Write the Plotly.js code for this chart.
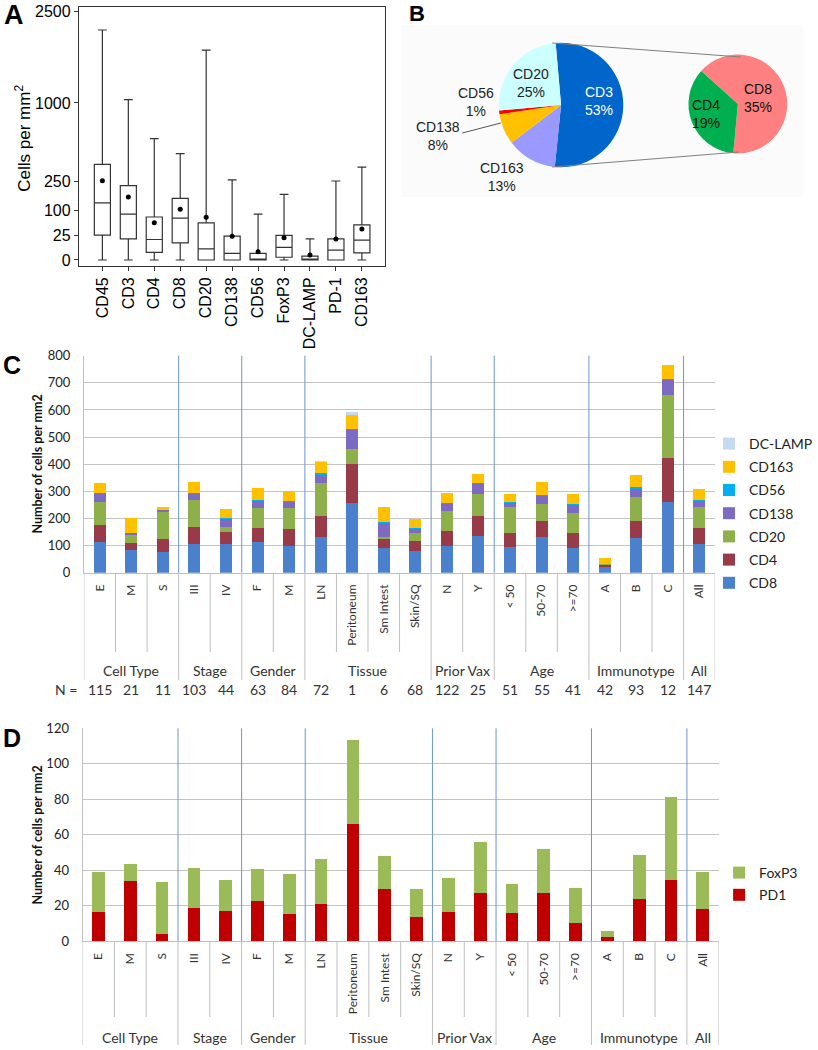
<!DOCTYPE html>
<html><head><meta charset="utf-8">
<script src="https://cdn.plot.ly/plotly-3.0.1.min.js"></script>
<style>html,body{margin:0;padding:0;background:#fff}#chart{width:818px;height:1050px}</style>
</head><body><div id="chart"></div>
<script>
// ---------- Panel A data (cells per mm2) ----------
const markersA = ['CD45','CD3','CD4','CD8','CD20','CD138','CD56','FoxP3','DC-LAMP','PD-1','CD163'];
const lowA  = [0,0,0,0,0,0,0,0,0,0,0];
const q1A   = [25,18,2.4,12,0,0,0,0.3,0,0,2];
const medA  = [132,85,17,71,5,1.8,0,6.5,0,4,16];
const q3A   = [371,224,75,154,56,23,1.8,24.5,0.6,18,50];
const highA = [2145,1042,597,458,1788,260,85,175,18,253,350];
const meanA = [255,161,56,104,74,23,2.7,20,1,18,39];
const tickA = [0,25,100,250,1000,2500];

// ---------- Panel B data (%) ----------
const pieLabels = ['CD3','CD163','CD138','CD56','CD20'];
const pieValues = [53,13,8,1,25];
const subLabels = ['CD8','CD4'];
const subValues = [35,19];

// ---------- Panels C / D categories ----------
const groups     = ['Cell Type','Stage','Gender','Tissue','Prior Vax','Age','Immunotype','All'];
const groupSizes = [3,2,2,4,2,3,3,1];
const cats = ['E','M','S','III','IV','F','M','LN','Peritoneum','Sm Intest','Skin/SQ','N','Y','< 50','50-70','>=70','A','B','C','All'];
const nCounts = [115,21,11,103,44,63,84,72,1,6,68,122,25,51,55,41,42,93,12,147];

// ---------- Panel C data (stack, bottom to top) ----------
const cd8    = [113,82,76,106,106,112,100,130,258,91,81,100,135,93,130,92,20,127,259,106];
const cd4    = [64,27,49,62,43,54,61,78,141,32,36,54,74,53,62,55,8,63,164,57];
const cd20   = [82,30,97,99,21,74,79,124,56,7,28,75,83,97,62,74,3,90,232,78];
const cd138  = [31,8,10,24,28,25,22,29,71,54,17,24,36,15,30,27,2,30,55,23];
const cd56   = [4,1,1,3,2,3,3,5,5,3,4,4,4,3,4,5,0,5,5,4];
const cd163  = [35,55,8,40,36,45,35,43,50,54,31,37,33,31,46,36,20,45,52,39];
const dclamp = [1,0,0,0,0,0,0,1,13,0,0,0,0,0,0,0,0,0,0,0];

// ---------- Panel D data ----------
const pd1   = [16.7,34.0,3.9,19.0,16.9,22.7,15.2,21.0,66.3,29.3,13.5,16.5,27.4,15.8,27.0,10.1,2.4,23.7,34.6,18.4];
const foxp3 = [22.2,9.4,29.5,22.1,17.7,18.1,22.9,25.2,46.9,18.8,16.2,19.2,28.4,16.7,24.8,20.1,3.4,25.1,46.5,20.7];

// ---------- helpers ----------
const W = 818, H = 1050;
const px = x => x / W, py = y => 1 - y / H;
const sq = v => Math.sqrt(v);
const idx = cats.map((c, i) => i);
const CAL = 'Lato, Carlito, sans-serif';
const ARI = 'Arial, Liberation Sans, sans-serif';

const traces = [];

// Panel A
traces.push({
  type: 'box', x: markersA, q1: q1A.map(sq), median: medA.map(sq), q3: q3A.map(sq),
  lowerfence: lowA.map(sq), upperfence: highA.map(sq),
  xaxis: 'x', yaxis: 'y', fillcolor: '#ffffff', line: {color: '#333', width: 1.2},
  width: 0.62, whiskerwidth: 0.55, showlegend: false, hoverinfo: 'skip'
});
traces.push({
  type: 'scatter', mode: 'markers', x: markersA, y: meanA.map(sq), xaxis: 'x', yaxis: 'y',
  marker: {color: '#000', size: 5}, showlegend: false, hoverinfo: 'skip'
});

// Panel B pies
traces.push({
  type: 'pie', labels: pieLabels, values: pieValues, sort: false, direction: 'clockwise', rotation: -5,
  marker: {colors: ['#0066CC','#9999FF','#FFC000','#FF0000','#CCFFFF'], line: {width: 0}},
  textinfo: 'none', showlegend: false, hoverinfo: 'skip',
  domain: {x: [px(505), px(631)], y: [py(168), py(42)]}
});
traces.push({
  type: 'pie', labels: subLabels, values: subValues, sort: false, direction: 'clockwise', rotation: -48,
  marker: {colors: ['#FF8080','#00B050'], line: {width: 0}},
  textinfo: 'none', showlegend: false, hoverinfo: 'skip',
  domain: {x: [px(697), px(797)], y: [py(154), py(54)]}
});

// Panel C stacked bars
const seriesC = [
  ['CD8', cd8, '#4A80CC'], ['CD4', cd4, '#983A48'], ['CD20', cd20, '#8DB04B'],
  ['CD138', cd138, '#7D6AC2'], ['CD56', cd56, '#00B0F0'], ['CD163', cd163, '#FFC000'],
  ['DC-LAMP', dclamp, '#C5D9F1']
];
seriesC.forEach((s, i) => traces.push({
  type: 'bar', name: s[0], x: idx, y: s[1], xaxis: 'x2', yaxis: 'y2', width: 0.38,
  marker: {color: s[2], line: {width: 0}}, legend: 'legend', legendgroup: s[0],
  legendrank: 100 - i, hoverinfo: 'skip'
}));

// Panel D stacked bars
const seriesD = [['PD1', pd1, '#C00000'], ['FoxP3', foxp3, '#9BBB59']];
seriesD.forEach((s, i) => traces.push({
  type: 'bar', name: s[0], x: idx, y: s[1], xaxis: 'x3', yaxis: 'y3', width: 0.4,
  marker: {color: s[2], line: {width: 0}}, legend: 'legend2', legendgroup: s[0],
  legendrank: 100 - i, hoverinfo: 'skip'
}));

// ---------- shapes & annotations ----------
const shapes = [];
const annotations = [];

// panel B background + connectors
shapes.push({type: 'rect', xref: 'paper', yref: 'paper', x0: px(407), x1: px(813), y0: py(197), y1: py(25),
  fillcolor: '#FBFBFB', line: {width: 0}, layer: 'below'});
shapes.push({type: 'line', xref: 'paper', yref: 'paper', x0: px(559), y0: py(43), x1: px(750), y1: py(57), line: {color: '#808080', width: 1}});
shapes.push({type: 'line', xref: 'paper', yref: 'paper', x0: px(559), y0: py(167), x1: px(748), y1: py(152), line: {color: '#808080', width: 1}});
shapes.push({type: 'line', xref: 'paper', yref: 'paper', x0: px(468), y0: py(133), x1: px(507), y1: py(123), line: {color: '#555', width: 1}});

// pie labels
const pieLabelPos = {CD3: [606, 101, '#fff'], CD163: [508, 177, '#222'], CD138: [443, 136, '#222'], CD56: [482, 102, '#222'], CD20: [538, 83, '#222']};
pieLabels.forEach((l, i) => {
  const p = pieLabelPos[l];
  annotations.push({xref: 'paper', yref: 'paper', x: px(p[0]), y: py(p[1]), text: l + '<br>' + pieValues[i] + '%',
    showarrow: false, font: {family: ARI, size: 14, color: p[2]}, xanchor: 'center', yanchor: 'middle'});
});
const subLabelPos = {CD8: [767, 98], CD4: [715, 114]};
subLabels.forEach((l, i) => {
  const p = subLabelPos[l];
  annotations.push({xref: 'paper', yref: 'paper', x: px(p[0]), y: py(p[1]), text: l + '<br>' + subValues[i] + '%',
    showarrow: false, font: {family: ARI, size: 14, color: '#111'}, xanchor: 'center', yanchor: 'middle'});
});

// panel letters
[['A', 14, 15, 27], ['B', 422, 13, 22], ['C', 12, 365, 25], ['D', 12, 738, 25]].forEach(l => annotations.push({
  xref: 'paper', yref: 'paper', x: px(l[1]), y: py(l[2]), text: '<b>' + l[0] + '</b>', showarrow: false,
  font: {family: ARI, size: l[3], color: '#000'}, xanchor: 'center', yanchor: 'middle'}));

// y titles
annotations.push({xref: 'paper', yref: 'paper', x: px(23), y: py(138), text: 'Cells per mm<sup>2</sup>', textangle: -90,
  showarrow: false, font: {family: ARI, size: 17, color: '#000'}, xanchor: 'center', yanchor: 'middle'});
annotations.push({xref: 'paper', yref: 'paper', x: px(37), y: py(464), text: '<b>Number of cells per mm2</b>', textangle: -90,
  showarrow: false, font: {family: CAL, size: 12.5, color: '#111'}, xanchor: 'center', yanchor: 'middle'});
annotations.push({xref: 'paper', yref: 'paper', x: px(37), y: py(835), text: '<b>Number of cells per mm2</b>', textangle: -90,
  showarrow: false, font: {family: CAL, size: 12.5, color: '#111'}, xanchor: 'center', yanchor: 'middle'});

// group boundaries
const bounds = [0];
groupSizes.forEach(s => bounds.push(bounds[bounds.length - 1] + s));

function catDecor(xref, yDomRef, axisPx, catBottomPx, grpBottomPx, grpLabelPx) {
  for (let b = 0; b <= cats.length; b++) {
    const isGroup = bounds.indexOf(b) >= 0;
    shapes.push({type: 'line', xref: xref, yref: 'paper', x0: b - 0.5, x1: b - 0.5,
      y0: py(axisPx), y1: py(isGroup ? grpBottomPx : catBottomPx), line: {color: '#BFBFBF', width: 1}});
  }
  for (let g = 1; g < bounds.length - 1; g++) {
    shapes.push({type: 'line', xref: xref, yref: yDomRef, x0: bounds[g] - 0.5, x1: bounds[g] - 0.5,
      y0: 0, y1: 1, line: {color: '#6A96D0', width: 1}});
  }
  groups.forEach((gname, g) => annotations.push({xref: xref, yref: 'paper',
    x: (bounds[g] + bounds[g + 1] - 1) / 2, y: py(grpLabelPx), text: gname, showarrow: false,
    font: {family: CAL, size: 14, color: '#333'}, xanchor: 'center', yanchor: 'middle'}));
}
catDecor('x2', 'y2 domain', 572.7, 652, 680, 670);
catDecor('x3', 'y3 domain', 941.3, 1017, 1045, 1037);

// N row
annotations.push({xref: 'paper', yref: 'paper', x: px(80), y: py(689), text: 'N =', showarrow: false,
  font: {family: CAL, size: 14, color: '#333'}, xanchor: 'right', yanchor: 'middle'});
nCounts.forEach((n, i) => annotations.push({xref: 'x2', yref: 'paper', x: i, y: py(689), text: String(n),
  showarrow: false, font: {family: CAL, size: 14, color: '#333'}, xanchor: 'center', yanchor: 'middle'}));

const layout = {
  width: W, height: H, margin: {l: 0, r: 0, t: 0, b: 0},
  paper_bgcolor: '#fff', plot_bgcolor: 'rgba(0,0,0,0)',
  barmode: 'stack', showlegend: true,
  xaxis: {domain: [px(80), px(390)], anchor: 'y', type: 'category', tickangle: -90,
    showline: true, mirror: true, linecolor: '#333', linewidth: 1.2, showgrid: false, zeroline: false,
    ticks: 'outside', ticklen: 4, tickcolor: '#333', tickfont: {family: ARI, size: 16, color: '#000'}, fixedrange: true},
  yaxis: {domain: [py(265.7), py(7)], anchor: 'x', range: [-1.15, 50.95], tickvals: tickA.map(sq), ticktext: tickA.map(String),
    showline: true, mirror: true, linecolor: '#333', linewidth: 1.2, showgrid: false, zeroline: false,
    ticks: 'outside', ticklen: 4, tickcolor: '#333', tickfont: {family: ARI, size: 16, color: '#000'}, fixedrange: true},
  xaxis2: {domain: [px(85), px(724)], anchor: 'y2', range: [-0.5, 19.5], tickvals: idx, ticktext: cats, tickangle: -90,
    showline: true, linecolor: '#BFBFBF', showgrid: false, zeroline: false, ticks: '', ticklabelstandoff: 6,
    tickfont: {family: CAL, size: 12, color: '#333'}, fixedrange: true},
  yaxis2: {domain: [py(572.7), py(355.7)], anchor: 'x2', range: [0, 800], dtick: 100,
    showline: true, linecolor: '#BFBFBF', gridcolor: '#C4C4C4', gridwidth: 1, zeroline: false, ticks: '',
    ticklabelstandoff: 10, tickfont: {family: CAL, size: 13, color: '#222'}, fixedrange: true},
  xaxis3: {domain: [px(83.6), px(727.6)], anchor: 'y3', range: [-0.5, 19.5], tickvals: idx, ticktext: cats, tickangle: -90,
    showline: true, linecolor: '#BFBFBF', showgrid: false, zeroline: false, ticks: '', ticklabelstandoff: 6,
    tickfont: {family: CAL, size: 12, color: '#333'}, fixedrange: true},
  yaxis3: {domain: [py(941.3), py(728.3)], anchor: 'x3', range: [0, 120], dtick: 20,
    showline: true, linecolor: '#BFBFBF', gridcolor: '#C4C4C4', gridwidth: 1, zeroline: false, ticks: '',
    ticklabelstandoff: 10, tickfont: {family: CAL, size: 13, color: '#222'}, fixedrange: true},
  legend: {x: px(718), y: py(428), xanchor: 'left', yanchor: 'top', traceorder: 'grouped', tracegroupgap: 2,
    font: {family: CAL, size: 14, color: '#222'}, bgcolor: 'rgba(0,0,0,0)'},
  legend2: {x: px(728), y: py(857), xanchor: 'left', yanchor: 'top', traceorder: 'grouped', tracegroupgap: 1,
    font: {family: CAL, size: 14, color: '#222'}, bgcolor: 'rgba(0,0,0,0)'},
  shapes: shapes, annotations: annotations
};

Plotly.newPlot('chart', traces, layout, {staticPlot: true, displayModeBar: false});
</script>
</body></html>
